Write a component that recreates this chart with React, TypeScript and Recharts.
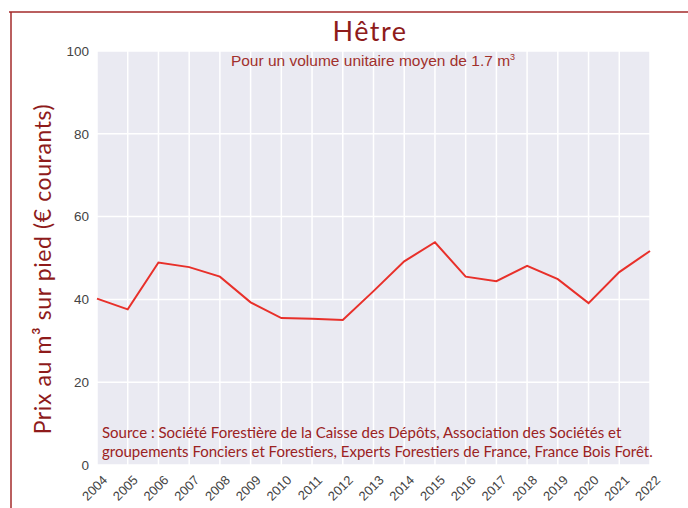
import { LineChart, Line, XAxis, YAxis, CartesianGrid } from 'recharts'

const years = [
  '2004', '2005', '2006', '2007', '2008', '2009', '2010', '2011', '2012', '2013',
  '2014', '2015', '2016', '2017', '2018', '2019', '2020', '2021', '2022',
]
const prices = [
  40.2, 37.6, 48.9, 47.8, 45.5, 39.3, 35.5, 35.3, 35.0, 42.0,
  49.2, 53.8, 45.5, 44.4, 48.1, 44.9, 39.1, 46.6, 51.7,
]
const yTicks = [0, 20, 40, 60, 80, 100]

const title = 'Hêtre'
const subtitle = 'Pour un volume unitaire moyen de 1.7 m'
const yLabel = 'Prix au m³ sur pied (€ courants)'
const sourceLines = [
  'Source : Société Forestière de la Caisse des Dépôts, Association des Sociétés et',
  'groupements Fonciers et Forestiers, Experts Forestiers de France, France Bois Forêt.',
]

const data = years.map((y, i) => ({ year: y, price: prices[i] }))

const DARK_RED = '#8e1b1b'
const TICK_FONT = '"Liberation Sans", Arial, sans-serif'
const LABEL_FONT = 'Lato, "Noto Sans", sans-serif'

function YearTick({ x, y, payload }: any) {
  const ax = x + 11
  const ay = y + 8
  return (
    <text
      x={ax}
      y={ay}
      transform={`rotate(-45, ${ax}, ${ay})`}
      textAnchor="end"
      fontSize={13}
      fontFamily={TICK_FONT}
      fill="#444"
    >
      {payload.value}
    </text>
  )
}

export default function App() {
  return (
    <div style={{ position: 'absolute', left: 0, top: 0, width: 688, height: 508, background: '#fff' }}>
      <LineChart
        width={688}
        height={508}
        data={data}
        margin={{ top: 51, right: 38, bottom: 3, left: 57 }}
      >
        <CartesianGrid fill="#eaeaf2" stroke="#ffffff" strokeWidth={1.5} />
        <XAxis
          dataKey="year"
          interval={0}
          axisLine={false}
          tickLine={false}
          height={40}
          tick={<YearTick />}
        />
        <YAxis
          domain={[0, 100]}
          ticks={yTicks}
          axisLine={false}
          tickLine={false}
          width={40}
          tick={{ fontSize: 13.5, fill: '#444', fontFamily: TICK_FONT }}
        />
        <Line
          type="linear"
          dataKey="price"
          stroke="#e8302a"
          strokeWidth={2}
          dot={false}
          isAnimationActive={false}
        />
      </LineChart>
      <svg
        width={688}
        height={508}
        style={{ position: 'absolute', left: 0, top: 0, pointerEvents: 'none' }}
      >
        <polyline points="9,12 688,12" stroke="#a32a2a" strokeWidth={1.5} fill="none" />
        <polyline points="11,12 11,508" stroke="#a32a2a" strokeWidth={1.5} fill="none" />
        <text
          x={370}
          y={41}
          textAnchor="middle"
          fontSize={27}
          letterSpacing={1.5}
          fontFamily={LABEL_FONT}
          fill={DARK_RED}
        >
          {title}
        </text>
        <text x={373} y={66} textAnchor="middle" fontSize={15.5} fontFamily={TICK_FONT} fill="#a1302c">
          {subtitle}
          <tspan fontSize={9} dy={-6}>3</tspan>
        </text>
        <text
          x={51}
          y={269}
          textAnchor="middle"
          fontSize={23}
          letterSpacing={0.6}
          fontFamily={LABEL_FONT}
          fill={DARK_RED}
          transform="rotate(-90, 51, 269)"
        >
          {yLabel}
        </text>
        {sourceLines.map((line, i) => (
          <text key={i} x={102} y={438 + i * 19} fontSize={15} fontFamily={LABEL_FONT} fill="#9b2222">
            {line}
          </text>
        ))}
      </svg>
    </div>
  )
}
